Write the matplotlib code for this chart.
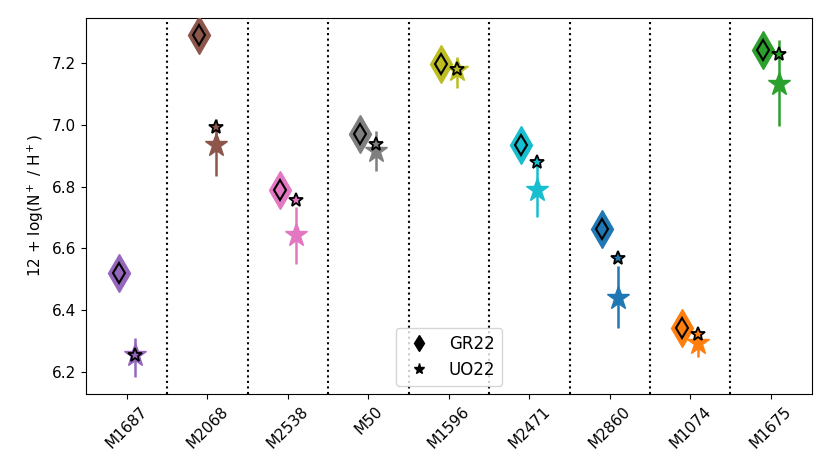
import matplotlib
matplotlib.use('Agg')
import matplotlib.pyplot as plt
import numpy as np
from matplotlib.lines import Line2D

plt.rcParams['font.size'] = 11

names = ['M1687', 'M2068', 'M2538', 'M50', 'M1596', 'M2471', 'M2860', 'M1074', 'M1675']
colors = ['tab:purple', 'tab:brown', 'tab:pink', 'tab:gray', 'tab:olive',
          'tab:cyan', 'tab:blue', 'tab:orange', 'tab:green']

# GR22 values
gr22 = [6.52, 7.29, 6.79, 6.97, 7.197, 6.935, 6.664, 6.341, 7.242]
# UO22 (small black-edged star)
uo22 = [6.255, 6.991, 6.757, 6.938, 7.18, 6.88, 6.569, 6.322, 7.228]
# our estimate (big star) with asymmetric error bars
est = [6.255, 6.933, 6.642, 6.916, 7.177, 6.79, 6.438, 6.295, 7.132]
est_lo = [6.184, 6.835, 6.55, 6.85, 7.12, 6.70, 6.343, 6.25, 6.997]
est_hi = [6.31, 7.02, 6.735, 6.98, 7.22, 6.88, 6.542, 6.33, 7.274]

fig = plt.figure(figsize=(8.3, 4.75), dpi=100)
ax = fig.add_axes([0.1036, 0.1705, 0.8744, 0.7915])

x = np.arange(len(names))
for i in range(len(names)):
  c = colors[i]
  ax.plot(x[i] - 0.1, gr22[i], 'd', color=c, ms=19, zorder=3)
  ax.plot(x[i] - 0.1, gr22[i], 'd', mfc=c, mec='k', mew=1.5, ms=10, zorder=4)
  yerr = [[est[i] - est_lo[i]], [est_hi[i] - est[i]]]
  ax.errorbar(x[i] + 0.1, est[i], yerr=yerr, fmt='*', color=c, ms=17,
              elinewidth=1.8, capsize=0, zorder=3)
  ax.plot(x[i] + 0.1, uo22[i], '*', mfc=c, mec='k', mew=1.3, ms=10, zorder=5)

for k in range(len(names) - 1):
  ax.axvline(k + 0.5, color='k', ls=':', lw=1.5, zorder=1)

ax.set_xlim(-0.51, 8.51)
ax.set_ylim(6.129, 7.345)
ax.set_xticks(x)
ax.set_xticklabels(names, rotation=45)
ax.set_yticks([6.2, 6.4, 6.6, 6.8, 7.0, 7.2])
ax.set_ylabel(r'12 + log(N$^+$ / H$^+$)')

handles = [Line2D([], [], marker='d', color='k', ls='none', ms=8),
           Line2D([], [], marker='*', color='k', ls='none', ms=8)]
ax.legend(handles, ['GR22', 'UO22'], loc='lower center', fontsize=12,
          bbox_to_anchor=(0.5, 0.0))

fig.savefig('out.png', dpi=100)
